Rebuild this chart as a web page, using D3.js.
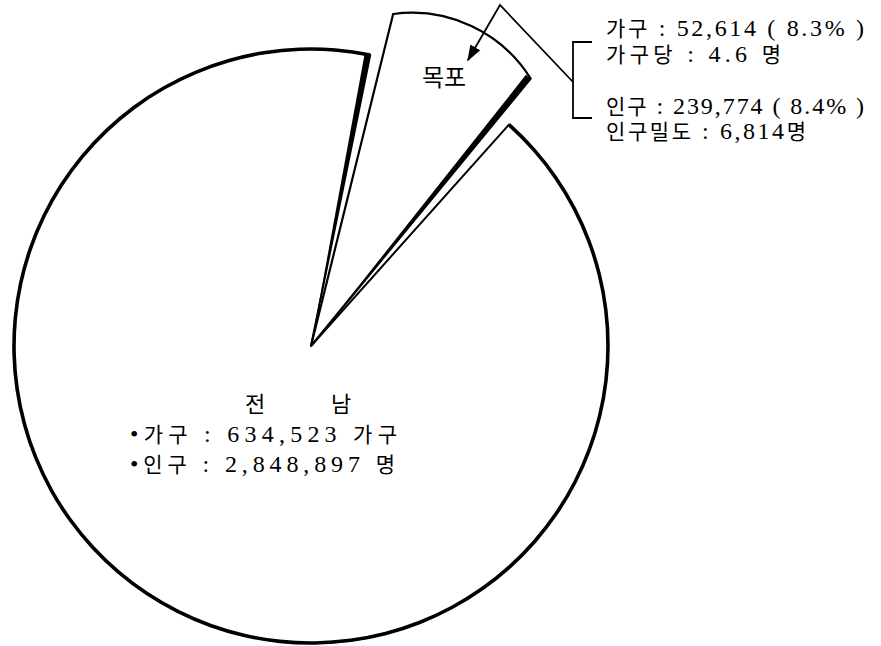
<!DOCTYPE html>
<html>
<head>
<meta charset="utf-8">
<script src="https://cdn.jsdelivr.net/npm/d3@7"></script>
<style>
body{margin:0;background:#fff;}
text{font-family:"Liberation Serif","Noto Sans CJK KR",serif;fill:#000;}
</style>
</head>
<body>
<script>
// data
var regions=["목포","전남 기타"]
var population=[239774,2609123]
var mokpoLines=["가구 : 52,614 ( 8.3% )","가구당 : 4.6 명","인구 : 239,774 ( 8.4% )","인구밀도 : 6,814명"]
var jeonnamLines=["•가구 : 634,523 가구","•인구 : 2,848,897 명"]
var jeonnamTitle=["전","남"]

var screen={width:881,height:646}
var center={x:311,y:346}
var radius=297, explodedRadius=346, bulge=140
var deg=Math.PI/180
var start=11.5*deg

var svg=d3.select("body").append("svg")
          .attr("width",screen.width)
          .attr("height",screen.height)
var plot=svg.append("g").attr("transform","translate("+center.x+","+center.y+")")

var pie=d3.pie().sort(null).startAngle(start).endAngle(start+2*Math.PI)
var slices=pie(population)
var mokpo=slices[0], rest=slices[1]

var arc=d3.arc().innerRadius(0).outerRadius(radius)
// main pie body
plot.append("path")
    .attr("d",arc(rest))
    .attr("fill","#fff")
    .attr("stroke","#000")
    .attr("stroke-width",2)
    .attr("stroke-linejoin","round")
// heavy outer rim
plot.append("path")
    .attr("d",d3.arc().innerRadius(radius-1.8).outerRadius(radius+1.8)(rest))
    .attr("fill","#000")
// shaded cut edge of the main pie
plot.append("path")
    .attr("d",arc({startAngle:rest.endAngle-1.1*deg,endAngle:rest.endAngle}))
    .attr("fill","#000")

// exploded slice, drawn a little narrower and taller
var inset=2.4*deg
var a0=mokpo.startAngle+inset, a1=mokpo.endAngle-inset
var pt=function(a,r){return [r*Math.sin(a),-r*Math.cos(a)]}
var c0=pt(a0,explodedRadius-4), c1=pt(a1,explodedRadius)
plot.append("path")
    .attr("d","M0,0L"+c0[0]+","+c0[1]+"A"+bulge+","+bulge+" 0 0 1 "+c1[0]+","+c1[1]+"Z")
    .attr("fill","#fff")
    .attr("stroke","#000")
    .attr("stroke-width",2.2)
    .attr("stroke-linejoin","miter")
plot.append("path")
    .attr("d",d3.arc().innerRadius(0).outerRadius(explodedRadius)({startAngle:a1-1*deg,endAngle:a1}))
    .attr("fill","#000")

// slice label
svg.append("text")
   .attr("x",444).attr("y",86)
   .attr("text-anchor","middle")
   .style("font-size","24px")
   .text(regions[0])

// leader with arrow
svg.append("defs").append("marker")
   .attr("id","arrow").attr("viewBox","0 0 10 10")
   .attr("refX",9).attr("refY",5)
   .attr("markerWidth",9).attr("markerHeight",9)
   .attr("orient","auto")
   .append("path").attr("d","M0,1.5L10,5L0,8.5Z").attr("fill","#000")
svg.append("path")
   .attr("d","M573,82L500,5L468,60")
   .attr("fill","none").attr("stroke","#000").attr("stroke-width",1.8)
   .attr("marker-end","url(#arrow)")
svg.append("path")
   .attr("d","M592,42H573V118H592")
   .attr("fill","none").attr("stroke","#000").attr("stroke-width",1.8)

// hangul runs a bit smaller than the figures, as in the print
var fillRuns=function(sel){
  sel.each(function(d){
    var t=d3.select(this)
    d.split(/([가-힣]+)/).filter(function(s){return s.length}).forEach(function(s){
      t.append("tspan")
       .style("font-size",/[가-힣]/.test(s)?"21px":"24px")
       .text(s)
    })
  })
}

// right-hand notes
svg.selectAll("text.note")
   .data(mokpoLines)
   .enter().append("text")
   .classed("note",true)
   .attr("x",606)
   .attr("y",function(d,i){return [36,62,114,139][i]})
   .attr("textLength",function(d,i){return [258,175,258,200][i]})
   .attr("lengthAdjust","spacing")
   .call(fillRuns)

// centre labels
svg.selectAll("text.title")
   .data(jeonnamTitle)
   .enter().append("text")
   .classed("title",true)
   .attr("x",function(d,i){return [255,341][i]})
   .attr("y",412)
   .attr("text-anchor","middle")
   .style("font-size","22px")
   .text(function(d){return d})
svg.selectAll("text.stat")
   .data(jeonnamLines)
   .enter().append("text")
   .classed("stat",true)
   .attr("x",130)
   .attr("y",function(d,i){return [442,472][i]})
   .attr("textLength",function(d,i){return [267,265][i]})
   .attr("lengthAdjust","spacing")
   .call(fillRuns)
</script>
</body>
</html>
